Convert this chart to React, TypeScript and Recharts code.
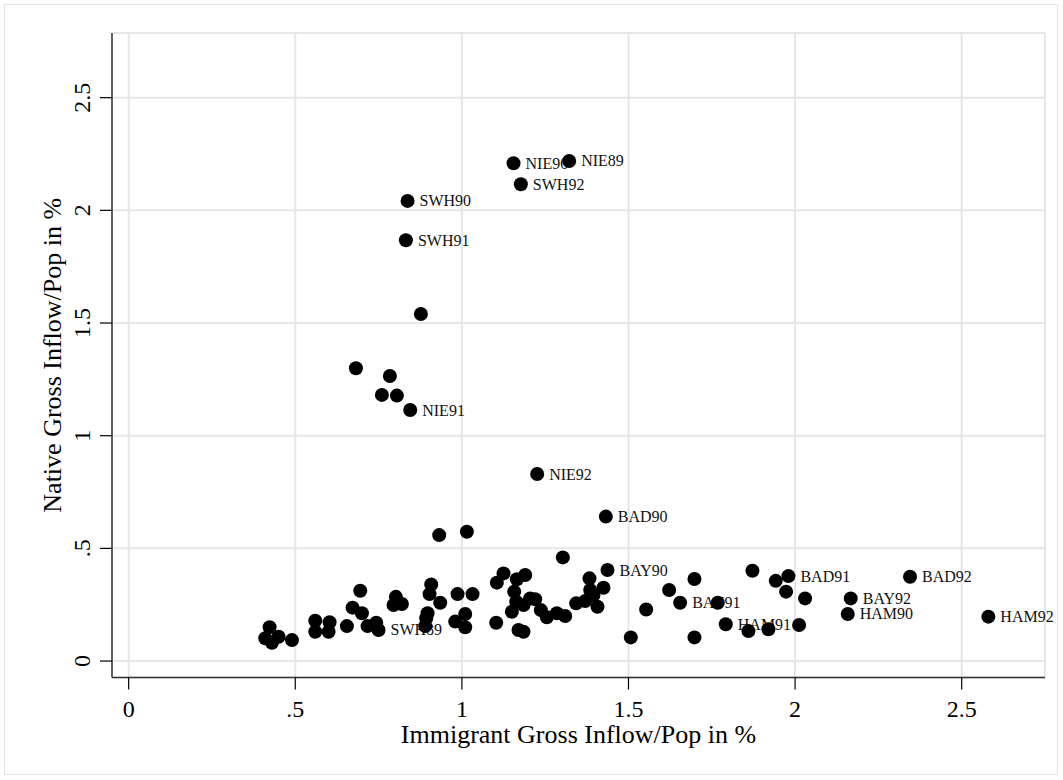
import React from "react";
import { ScatterChart, Scatter, XAxis, YAxis, CartesianGrid } from "recharts";

// labelled regions (name, immigrant inflow, native inflow)
const labelNames = [
  "NIE89", "NIE90", "SWH92", "SWH90", "SWH91", "NIE91", "NIE92", "BAD90", "BAY90",
  "BAY91", "SWH89", "HAM91", "BAD91", "BAY92", "HAM90", "BAD92", "HAM92",
];
const labeledX = [
  1.322, 1.155, 1.177, 0.837, 0.832, 0.845, 1.226, 1.432, 1.437,
  1.655, 0.75, 1.792, 1.98, 2.167, 2.158, 2.345, 2.58,
];
const labeledY = [
  2.219, 2.209, 2.116, 2.042, 1.867, 1.114, 0.83, 0.641, 0.404,
  0.259, 0.138, 0.163, 0.377, 0.278, 0.209, 0.374, 0.197,
];

// unlabelled regions
const otherX = [
  0.877, 0.682, 0.784, 0.76, 0.805, 0.932, 1.015, 1.303,
  0.423, 0.41, 0.43, 0.45, 0.49, 0.56, 0.56, 0.603, 0.6, 0.655,
  0.695, 0.672, 0.7, 0.717, 0.743, 0.802, 0.795, 0.82, 0.908, 0.903,
  0.935, 0.897, 0.893, 0.89, 0.987, 1.032, 1.01, 0.98, 1.01, 1.103,
  1.125, 1.105, 1.165, 1.19, 1.157, 1.163, 1.15, 1.185, 1.205, 1.22,
  1.237, 1.255, 1.285, 1.31, 1.17, 1.185, 1.343, 1.37, 1.383, 1.385,
  1.395, 1.407, 1.425, 1.553, 1.507, 1.622, 1.698, 1.768, 1.698, 1.872,
  1.942, 1.973, 2.03, 1.86, 1.92, 2.012,
];
const otherY = [
  1.54, 1.299, 1.265, 1.181, 1.178, 0.559, 0.574, 0.46,
  0.15, 0.101, 0.081, 0.108, 0.093, 0.179, 0.13, 0.172, 0.13, 0.155,
  0.312, 0.237, 0.212, 0.155, 0.17, 0.285, 0.249, 0.253, 0.34, 0.297,
  0.259, 0.212, 0.19, 0.155, 0.297, 0.297, 0.209, 0.175, 0.15, 0.17,
  0.389, 0.348, 0.363, 0.382, 0.308, 0.263, 0.219, 0.249, 0.278, 0.274,
  0.226, 0.194, 0.212, 0.2, 0.138, 0.13, 0.256, 0.266, 0.367, 0.315,
  0.293, 0.241, 0.325, 0.229, 0.105, 0.315, 0.364, 0.259, 0.105, 0.401,
  0.356, 0.308, 0.278, 0.133, 0.141, 0.16,
];

const xTicks = [0, 0.5, 1, 1.5, 2, 2.5];
const yTicks = [0, 0.5, 1, 1.5, 2, 2.5];

const points = [
  ...otherX.map((x, i) => ({ x, y: otherY[i], name: "" })),
  ...labeledX.map((x, i) => ({ x, y: labeledY[i], name: labelNames[i] })),
];

const W = 1063;
const H = 780;
const TOP = 33;
const RIGHT = 18;
const YAXIS_W = 112;
const XAXIS_H = 102.5;
const FONT = "'Liberation Serif', 'Times New Roman', serif";

const fmt = (v: number) => (v > 0 && v < 1 ? String(v).replace(/^0/, "") : String(v));

const XTick = (p: any) => (
  <text x={p.x} y={p.y + 27.5} textAnchor="middle" fontFamily={FONT} fontSize={24} fill="#000">
    {fmt(p.payload.value)}
  </text>
);

const YTick = (p: any) => {
  const bx = p.x - 10;
  return (
    <text
      x={bx}
      y={p.y}
      transform={`rotate(-90 ${bx} ${p.y})`}
      textAnchor="middle"
      fontFamily={FONT}
      fontSize={24}
      fill="#000"
    >
      {fmt(p.payload.value)}
    </text>
  );
};

const plotCenterX = YAXIS_W + (W - RIGHT - YAXIS_W) / 2;
const plotCenterY = TOP + (H - TOP - XAXIS_H) / 2;

const XTitle = () => (
  <text x={plotCenterX} y={743} textAnchor="middle" fontFamily={FONT} fontSize={26} fill="#000">
    Immigrant Gross Inflow/Pop in %
  </text>
);

const YTitle = () => (
  <text
    x={61}
    y={plotCenterY}
    transform={`rotate(-90 61 ${plotCenterY})`}
    textAnchor="middle"
    fontFamily={FONT}
    fontSize={26}
    fill="#000"
  >
    Native Gross Inflow/Pop in %
  </text>
);

const NameShape = (p: any) =>
  p.payload && p.payload.name ? (
    <text x={p.cx + 12} y={p.cy + 5.5} fontFamily={FONT} fontSize={16} fill="#111">
      {p.payload.name}
    </text>
  ) : (
    <g />
  );

const DotShape = (p: any) => <circle cx={p.cx} cy={p.cy} r={7} fill="#000" />;

export default function App() {
  return (
    <div style={{ position: "absolute", left: 0, top: 0, width: W, height: H, background: "#fff" }}>
      <div
        style={{
          position: "absolute",
          left: 4,
          top: 4,
          width: W - 9,
          height: H - 9,
          border: "1.5px solid #e4e4e4",
          boxSizing: "border-box",
        }}
      />
      <div style={{ position: "absolute", left: 0, top: 0 }}>
        <ScatterChart
          width={W}
          height={H}
          margin={{ top: TOP, right: RIGHT, bottom: 0, left: 0 }}
          style={{ overflow: "visible" }}
        >
          <CartesianGrid stroke="#e6e6e6" strokeWidth={2} />
          <XAxis
            type="number"
            dataKey="x"
            domain={[-0.05, 2.75]}
            ticks={xTicks}
            height={XAXIS_H}
            tickSize={12}
            tickMargin={0}
            axisLine={{ stroke: "#333", strokeWidth: 1.5 }}
            tickLine={{ stroke: "#000", strokeWidth: 1.2 }}
            tick={XTick}
            label={XTitle}
          />
          <YAxis
            type="number"
            dataKey="y"
            domain={[-0.073, 2.787]}
            ticks={yTicks}
            width={YAXIS_W}
            tickSize={12}
            tickMargin={0}
            axisLine={{ stroke: "#333", strokeWidth: 1.5 }}
            tickLine={{ stroke: "#000", strokeWidth: 1.2 }}
            tick={YTick}
            label={YTitle}
          />
          <Scatter data={points} isAnimationActive={false} shape={NameShape} />
          <Scatter data={points} isAnimationActive={false} shape={DotShape} />
        </ScatterChart>
      </div>
    </div>
  );
}
